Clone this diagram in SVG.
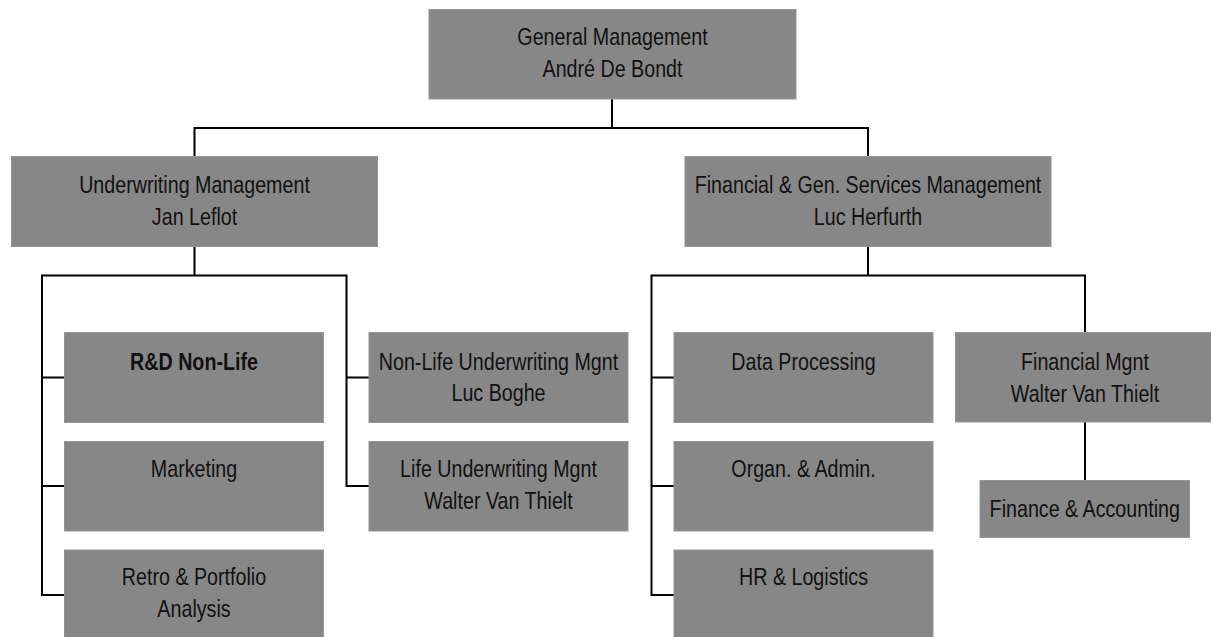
<svg xmlns="http://www.w3.org/2000/svg" width="1211" height="637" viewBox="0 0 1211 637">
<style>
.box{fill:#878787;stroke:#959595;stroke-width:1}
.t{font-family:"Liberation Sans",Arial,sans-serif;font-size:24px;fill:#111;text-anchor:middle}
.b{font-weight:bold}
.c{fill:none;stroke:#000;stroke-width:2}
</style>
<rect width="1211" height="637" fill="#fff"/>
<g id="connectors">
<path class="c" d="M612,99V128M194.5,156.5V128H868V156.5"/>
<path class="c" d="M194.5,246.5V275.5M64.5,377.5H42V275.5H346.5V486H369M42,486H64.5M42,377.5V595H64.5M346.5,377.5H369"/>
<path class="c" d="M868,246.5V275.5M674,377.5H651.5V275.5H1085V332.5M651.5,486H674M651.5,377.5V595H674"/>
<path class="c" d="M1085,422V480.5"/>
</g>
<g id="gm"><rect class="box" x="429" y="9.5" width="367" height="89.5"/><g transform="translate(612.5 0) scale(0.82 1)"><text class="t" x="0" y="45">General Management</text><text class="t" x="0" y="77">André De Bondt</text></g></g>
<g id="um"><rect class="box" x="11.5" y="156.5" width="366" height="90"/><g transform="translate(194.5 0) scale(0.82 1)"><text class="t" x="0" y="193">Underwriting Management</text><text class="t" x="0" y="225">Jan Leflot</text></g></g>
<g id="fgs"><rect class="box" x="685" y="156.5" width="366" height="90"/><g transform="translate(868 0) scale(0.82 1)"><text class="t" x="0" y="193">Financial &amp; Gen. Services Management</text><text class="t" x="0" y="225">Luc Herfurth</text></g></g>
<g id="rd"><rect class="box" x="64.5" y="332.5" width="259" height="90"/><g transform="translate(194 0) scale(0.82 1)"><text class="t b" x="0" y="370">R&amp;D Non-Life</text></g></g>
<g id="marketing"><rect class="box" x="64.5" y="441.5" width="259" height="89.5"/><g transform="translate(194 0) scale(0.82 1)"><text class="t" x="0" y="477">Marketing</text></g></g>
<g id="retro"><rect class="box" x="64.5" y="550" width="259" height="90"/><g transform="translate(194 0) scale(0.82 1)"><text class="t" x="0" y="585">Retro &amp; Portfolio</text><text class="t" x="0" y="617">Analysis</text></g></g>
<g id="nonlife"><rect class="box" x="369" y="332.5" width="259" height="90"/><g transform="translate(498.5 0) scale(0.82 1)"><text class="t" x="0" y="370">Non-Life Underwriting Mgnt</text><text class="t" x="0" y="401">Luc Boghe</text></g></g>
<g id="life"><rect class="box" x="369" y="441.5" width="259" height="89.5"/><g transform="translate(498.5 0) scale(0.82 1)"><text class="t" x="0" y="477">Life Underwriting Mgnt</text><text class="t" x="0" y="509">Walter Van Thielt</text></g></g>
<g id="dp"><rect class="box" x="674" y="332.5" width="259" height="90"/><g transform="translate(803.5 0) scale(0.82 1)"><text class="t" x="0" y="370">Data Processing</text></g></g>
<g id="organ"><rect class="box" x="674" y="441.5" width="259" height="89.5"/><g transform="translate(803.5 0) scale(0.82 1)"><text class="t" x="0" y="477">Organ. &amp; Admin.</text></g></g>
<g id="hr"><rect class="box" x="674" y="550" width="259" height="90"/><g transform="translate(803.5 0) scale(0.82 1)"><text class="t" x="0" y="585">HR &amp; Logistics</text></g></g>
<g id="fm"><rect class="box" x="955.5" y="332.5" width="259" height="89.5"/><g transform="translate(1085 0) scale(0.82 1)"><text class="t" x="0" y="370">Financial Mgnt</text><text class="t" x="0" y="402">Walter Van Thielt</text></g></g>
<g id="fa"><rect class="box" x="980" y="480.5" width="209.5" height="57"/><g transform="translate(1084.75 0) scale(0.82 1)"><text class="t" x="0" y="517">Finance &amp; Accounting</text></g></g>
</svg>
